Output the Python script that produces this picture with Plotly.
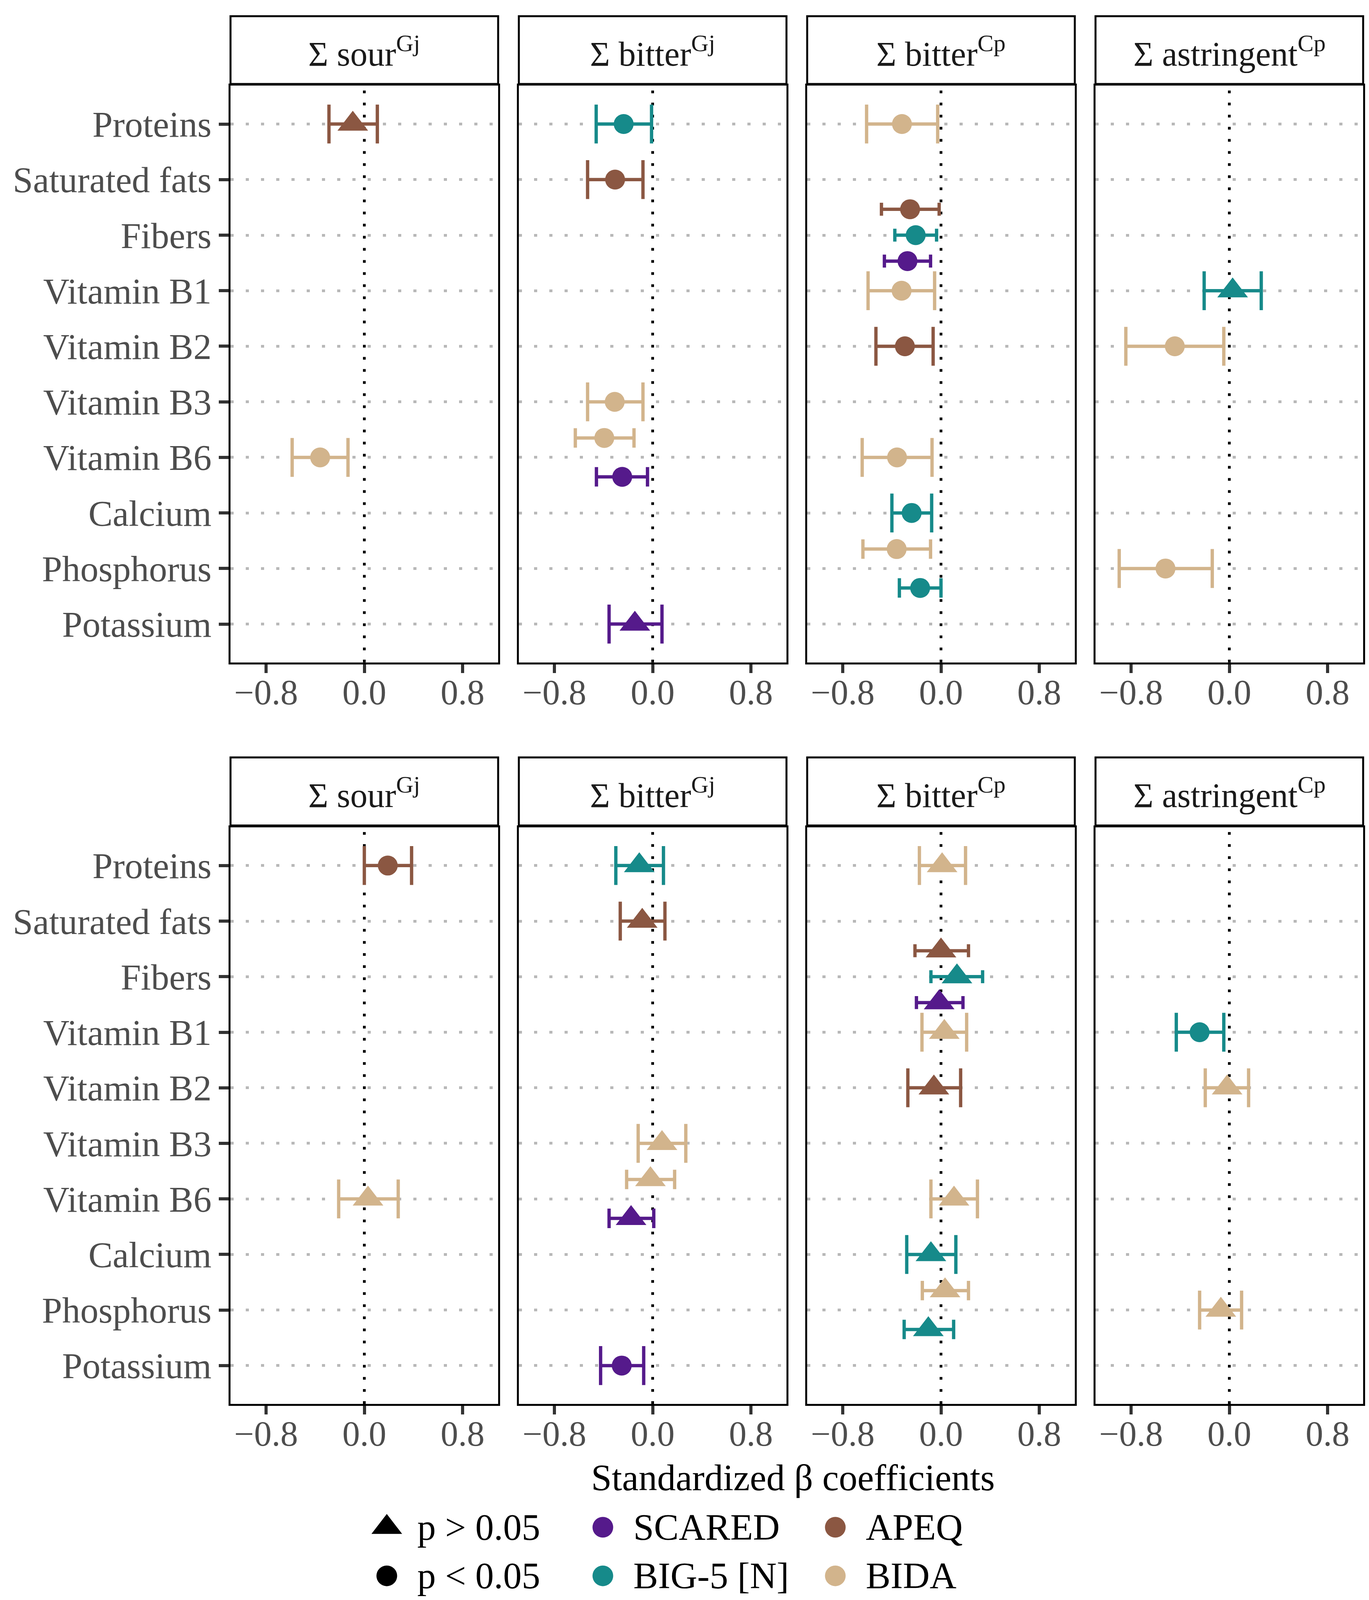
import plotly.graph_objects as go

# the photographed viewport is clipped near 4096 px tall, so the
# reference layout (3504 x 4514) is squeezed vertically by K
W, H_REF = 3504, 4514
H = 4096
K = H / H_REF
FONT = "Liberation Serif"

NUTRIENTS = ["Proteins", "Saturated fats", "Fibers", "Vitamin B1", "Vitamin B2",
             "Vitamin B3", "Vitamin B6", "Calcium", "Phosphorus", "Potassium"]
TASTES = ["sourGj", "bitterGj", "bitterCp", "astringentCp"]
STRIP_LABELS = ["Σ sour<sup>Gj</sup>", "Σ bitter<sup>Gj</sup>",
                "Σ bitter<sup>Cp</sup>", "Σ astringent<sup>Cp</sup>"]
SCALES = ["SCARED", "BIG-5 [N]", "APEQ", "BIDA"]
SCALE_COLORS = ["#551A8B", "#168A8A", "#8B5742", "#D2B48C"]
X_TICKS = [-0.8, 0.0, 0.8]

# upper row of panels
top_taste = ["sourGj", "sourGj",
             "bitterGj", "bitterGj", "bitterGj", "bitterGj", "bitterGj", "bitterGj",
             "bitterCp", "bitterCp", "bitterCp", "bitterCp", "bitterCp", "bitterCp",
             "bitterCp", "bitterCp", "bitterCp", "bitterCp",
             "astringentCp", "astringentCp", "astringentCp"]
top_nutrient = ["Proteins", "Vitamin B6",
                "Proteins", "Saturated fats", "Vitamin B3", "Vitamin B6", "Vitamin B6", "Potassium",
                "Proteins", "Fibers", "Fibers", "Fibers", "Vitamin B1", "Vitamin B2",
                "Vitamin B6", "Calcium", "Phosphorus", "Phosphorus",
                "Vitamin B1", "Vitamin B2", "Phosphorus"]
top_scale = ["APEQ", "BIDA",
             "BIG-5 [N]", "APEQ", "BIDA", "BIDA", "SCARED", "SCARED",
             "BIDA", "APEQ", "BIG-5 [N]", "SCARED", "BIDA", "APEQ",
             "BIDA", "BIG-5 [N]", "BIDA", "BIG-5 [N]",
             "BIG-5 [N]", "BIDA", "BIDA"]
top_beta = [-0.094, -0.360,
            -0.236, -0.306, -0.309, -0.394, -0.248, -0.145,
            -0.318, -0.252, -0.206, -0.273, -0.321, -0.294,
            -0.358, -0.239, -0.361, -0.170,
            0.027, -0.444, -0.520]
top_low = [-0.288, -0.588,
           -0.460, -0.530, -0.530, -0.630, -0.458, -0.355,
           -0.606, -0.485, -0.376, -0.461, -0.594, -0.530,
           -0.642, -0.400, -0.636, -0.339,
           -0.205, -0.843, -0.897]
top_high = [0.106, -0.133,
            -0.009, -0.079, -0.079, -0.152, -0.042, 0.076,
            -0.027, -0.015, -0.036, -0.085, -0.052, -0.064,
            -0.073, -0.076, -0.085, 0.000,
            0.260, -0.045, -0.139]
top_sig = [False, True,
           True, True, True, True, True, False,
           True, True, True, True, True, True,
           True, True, True, True,
           False, True, True]

# lower row of panels
bottom_taste = top_taste
bottom_nutrient = top_nutrient
bottom_scale = top_scale
bottom_beta = [0.191, 0.030,
               -0.109, -0.085, 0.076, -0.018, -0.176, -0.252,
               0.009, 0.000, 0.130, -0.015, 0.027, -0.058,
               0.106, -0.082, 0.033, -0.103,
               -0.242, -0.018, -0.069]
bottom_low = [0.000, -0.209,
              -0.300, -0.264, -0.118, -0.212, -0.355, -0.424,
              -0.176, -0.212, -0.082, -0.200, -0.155, -0.270,
              -0.082, -0.279, -0.152, -0.300,
              -0.432, -0.196, -0.242]
bottom_high = [0.385, 0.276,
               0.088, 0.100, 0.270, 0.179, 0.009, -0.073,
               0.200, 0.224, 0.339, 0.179, 0.209, 0.160,
               0.297, 0.121, 0.224, 0.103,
               -0.045, 0.157, 0.100]
bottom_sig = [True, False,
              False, False, False, False, False, True,
              False, False, False, False, False, False,
              False, False, False, False,
              True, False, False]

# layout in reference pixels (y values get scaled by K)
COL_X0 = [582, 1320, 2058, 2796]
COL_W = 685
PANEL_Y = [(233, 1860), (2325, 3952)]
STRIP_Y = [(37, 228), (2128, 2320)]
X_RANGE = [-1.09, 1.09]
Y_RANGE = [10.69, 0.31]
DODGE = 1.4
BAR_W = 0.7
px_per_unit = (PANEL_Y[0][1] - PANEL_Y[0][0]) * K / (Y_RANGE[0] - Y_RANGE[1])


def fx(px):
    return px / W


def fy(py):
    return 1 - py / H_REF


fig = go.Figure()

rows = [
    (top_taste, top_nutrient, top_scale, top_beta, top_low, top_high, top_sig),
    (bottom_taste, bottom_nutrient, bottom_scale, bottom_beta, bottom_low, bottom_high, bottom_sig),
]

for r, (taste, nutr, scale, beta, low, high, sig) in enumerate(rows):
    # group points sharing a panel and nutrient for dodging
    groups = {}
    for i in range(len(beta)):
        groups.setdefault((taste[i], nutr[i]), []).append(i)
    for key, idxs in groups.items():
        idxs.sort(key=lambda i: -SCALES.index(scale[i]))  # BIDA on top, SCARED at bottom
        n = len(idxs)
        for k, i in enumerate(idxs):
            c = TASTES.index(taste[i])
            ax = r * 4 + c + 1
            ypos = NUTRIENTS.index(nutr[i]) + 1 - DODGE / 2 + DODGE / (2 * n) + k * DODGE / n
            col = SCALE_COLORS[SCALES.index(scale[i])]
            fig.add_trace(go.Scatter(
                x=[beta[i]], y=[ypos], mode="markers",
                xaxis="x" if ax == 1 else f"x{ax}", yaxis="y" if ax == 1 else f"y{ax}",
                marker=dict(symbol="circle" if sig[i] else "triangle-up",
                            size=51 if sig[i] else 68, color=col, line=dict(width=0)),
                error_x=dict(type="data", symmetric=False,
                             array=[high[i] - beta[i]], arrayminus=[beta[i] - low[i]],
                             color=col, thickness=8.5,
                             width=BAR_W / n / 2 * px_per_unit),
                showlegend=False, hoverinfo="skip",
            ))

layout = dict(width=W, height=H, autosize=False, margin=dict(l=0, r=0, t=0, b=0),
              plot_bgcolor="white", paper_bgcolor="white",
              font=dict(family=FONT, size=92, color="black"), showlegend=False)
shapes = []
annotations = []
for r in range(2):
    for c in range(4):
        ax = r * 4 + c + 1
        sx = "" if ax == 1 else str(ax)
        layout["xaxis" + sx] = dict(
            domain=[fx(COL_X0[c]), fx(COL_X0[c] + COL_W)], anchor="y" + sx,
            range=X_RANGE, tickvals=X_TICKS, tickformat=".1f",
            showgrid=False, zeroline=False, showline=True, mirror=True,
            linecolor="black", linewidth=5, ticks="outside", ticklen=22,
            tickwidth=8, tickcolor="#333333", ticklabelstandoff=-28,
            tickfont=dict(family=FONT, size=90, color="#4D4D4D"))
        layout["yaxis" + sx] = dict(
            domain=[fy(PANEL_Y[r][1]), fy(PANEL_Y[r][0])], anchor="x" + sx,
            range=Y_RANGE, tickvals=list(range(1, len(NUTRIENTS) + 1)), ticktext=NUTRIENTS,
            showticklabels=(c == 0), ticks="outside" if c == 0 else "",
            ticklen=25, tickwidth=8, tickcolor="#333333",
            tickfont=dict(family=FONT, size=93, color="#4D4D4D"),
            showgrid=True, gridcolor="#B8B8B8", gridwidth=7, griddash="8px,31px",
            zeroline=False, showline=True, mirror=True, linecolor="black", linewidth=5)
        # reference line at zero
        shapes.append(dict(type="line", xref="x" + sx, yref="y" + sx + " domain",
                           x0=0, x1=0, y0=0, y1=1, layer="below",
                           line=dict(color="black", width=7, dash="7px,24px")))
        # facet strip
        shapes.append(dict(type="rect", xref="paper", yref="paper",
                           x0=fx(COL_X0[c]), x1=fx(COL_X0[c] + COL_W),
                           y0=fy(STRIP_Y[r][1]), y1=fy(STRIP_Y[r][0]),
                           fillcolor="white", line=dict(color="black", width=5)))
        annotations.append(dict(text=STRIP_LABELS[c], xref="paper", yref="paper",
                                x=fx(COL_X0[c] + COL_W / 2), y=fy((STRIP_Y[r][0] + STRIP_Y[r][1]) / 2 + 4),
                                xanchor="center", yanchor="middle", showarrow=False,
                                font=dict(family=FONT, size=88, color="#1A1A1A")))

annotations.append(dict(text="Standardized β coefficients", xref="paper", yref="paper",
                        x=fx((COL_X0[0] + COL_X0[3] + COL_W) / 2 - 10), y=fy(4160),
                        xanchor="center", yanchor="middle", showarrow=False,
                        font=dict(family=FONT, size=95, color="black")))

# legend drawn on an overlay axis measured in reference pixels
LEG_H = 0.08
layout["xaxis9"] = dict(domain=[0, 1], range=[0, W], visible=False, anchor="y9")
layout["yaxis9"] = dict(domain=[0, LEG_H], range=[0, LEG_H * H_REF], visible=False, anchor="x9")
leg_items = [("p &gt; 0.05", "triangle-up", "black", 982, 4300),
             ("p &lt; 0.05", "circle", "black", 982, 4437),
             ("SCARED", "circle", SCALE_COLORS[0], 1535, 4300),
             ("BIG-5 [N]", "circle", SCALE_COLORS[1], 1535, 4437),
             ("APEQ", "circle", SCALE_COLORS[2], 2130, 4300),
             ("BIDA", "circle", SCALE_COLORS[3], 2130, 4437)]
for label, sym, col, px, py in leg_items:
    fig.add_trace(go.Scatter(x=[px], y=[H_REF - py], mode="markers", xaxis="x9", yaxis="y9",
                             marker=dict(symbol=sym, size=68 if sym == "triangle-up" else 53,
                                         color=col, line=dict(width=0)),
                             showlegend=False, hoverinfo="skip"))
    annotations.append(dict(text=label, xref="paper", yref="paper",
                            x=fx(px + 76), y=fy(py), xanchor="left", yanchor="middle",
                            showarrow=False, font=dict(family=FONT, size=95, color="black")))

layout["shapes"] = shapes
layout["annotations"] = annotations
fig.update_layout(**layout)

fig.write_html("out.html")
